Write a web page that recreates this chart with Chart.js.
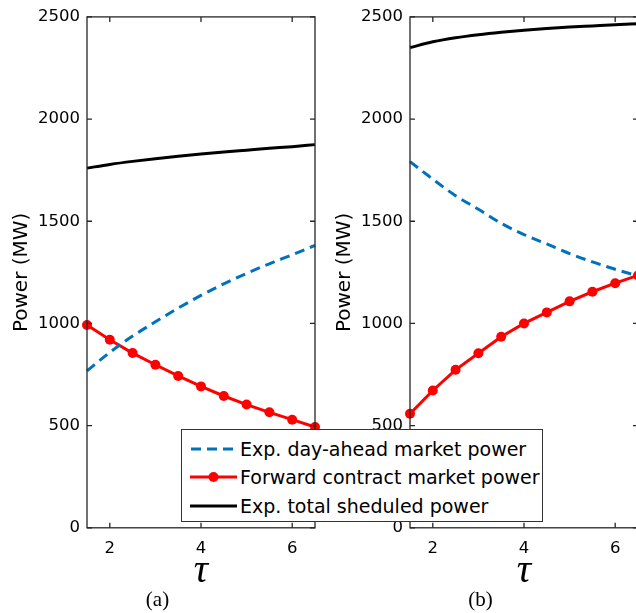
<!DOCTYPE html>
<html>
<head>
<meta charset="utf-8">
<script src="https://cdn.jsdelivr.net/npm/chart.js@4.4.1/dist/chart.umd.min.js"></script>
<style>
  html, body { margin: 0; padding: 0; background: #fff; overflow: hidden; width: 636px; height: 613px; }
  #wrap { position: relative; width: 636px; height: 613px; overflow: hidden; }
  canvas { position: absolute; top: 0; }
  #cA { left: 0; }
  #cB { left: 323px; }
  #legend { position: absolute; left: 181px; top: 429px; width: 360px; height: 91px;
    border: 1.5px solid #333; background: #fff; z-index: 5;
    font-family: "DejaVu Sans", sans-serif; font-size: 19px; color: #000; }
  .row { position: absolute; left: 0; height: 28px; display: flex; align-items: center; white-space: nowrap; }
  .row svg { margin-left: 8px; margin-right: 3px; }
</style>
</head>
<body>
<div id="wrap">
  <canvas id="cA" width="323" height="613"></canvas>
  <canvas id="cB" width="323" height="613"></canvas>
  <div id="legend">
    <div class="row" style="top:5px"><svg width="47" height="12"><line x1="1" y1="6" x2="47" y2="6" stroke="#0072BD" stroke-width="3" stroke-dasharray="10,6"/></svg><span>Exp. day-ahead market power</span></div>
    <div class="row" style="top:33px"><svg width="47" height="12"><line x1="0" y1="6" x2="47" y2="6" stroke="#FF0000" stroke-width="3"/><circle cx="23.5" cy="6" r="5" fill="#FF0000"/></svg><span>Forward contract market power</span></div>
    <div class="row" style="top:62px"><svg width="47" height="12"><line x1="0" y1="6" x2="47" y2="6" stroke="#000" stroke-width="3"/></svg><span>Exp. total sheduled power</span></div>
  </div>
</div>
<script>
// ---- data ----
const tau = [1.5, 2, 2.5, 3, 3.5, 4, 4.5, 5, 5.5, 6, 6.5];
const dayAheadA = [768, 858, 938, 1008, 1075, 1137, 1194, 1245, 1292, 1336, 1382];
const forwardA  = [992, 920, 855, 798, 743, 692, 645, 603, 565, 529, 493];
const totalA    = [1760, 1778, 1793, 1806, 1818, 1829, 1839, 1848, 1857, 1865, 1875];
const dayAheadB = [1792, 1706, 1625, 1559, 1490, 1435, 1389, 1342, 1301, 1265, 1232];
const forwardB  = [558, 672, 773, 854, 935, 1000, 1054, 1108, 1155, 1197, 1235];
const totalB    = [2350, 2378, 2398, 2413, 2425, 2435, 2443, 2450, 2456, 2462, 2467];
const xTicks = [2, 4, 6];
const yTicks = [0, 500, 1000, 1500, 2000, 2500];
const seriesNames = ["Exp. day-ahead market power", "Forward contract market power", "Exp. total sheduled power"];
const panelLabels = ["(a)", "(b)"];

const pts = arr => tau.map((t, i) => ({ x: t, y: arr[i] }));

const boxPlugin = {
  id: 'box',
  afterDatasetsDraw(chart) {
    const { ctx, chartArea: a, scales: { x, y } } = chart;
    ctx.save();
    ctx.strokeStyle = '#262626';
    ctx.lineWidth = 1.3;
    ctx.strokeRect(a.left, a.top, a.right - a.left, a.bottom - a.top);
    const L = 5;
    ctx.beginPath();
    xTicks.forEach(v => {
      const px = x.getPixelForValue(v);
      ctx.moveTo(px, a.bottom); ctx.lineTo(px, a.bottom - L);
      ctx.moveTo(px, a.top); ctx.lineTo(px, a.top + L);
    });
    yTicks.forEach(v => {
      const py = y.getPixelForValue(v);
      ctx.moveTo(a.left, py); ctx.lineTo(a.left + L, py);
      ctx.moveTo(a.right, py); ctx.lineTo(a.right - L, py);
    });
    ctx.stroke();
    ctx.restore();
  }
};

function makeChart(id, da, fw, tot, label) {
  return new Chart(document.getElementById(id), {
    type: 'line',
    data: {
      datasets: [
        { label: seriesNames[0], data: pts(da), borderColor: '#0072BD', borderWidth: 3, borderDash: [10, 6],
          pointRadius: 0, tension: 0.3, cubicInterpolationMode: 'monotone', clip: 2 },
        { label: seriesNames[1], data: pts(fw), borderColor: '#FF0000', backgroundColor: '#FF0000', borderWidth: 3,
          pointRadius: 5, pointBackgroundColor: '#FF0000', pointBorderWidth: 0, tension: 0, clip: 8 },
        { label: seriesNames[2], data: pts(tot), borderColor: '#000000', borderWidth: 3,
          pointRadius: 0, tension: 0.3, cubicInterpolationMode: 'monotone', clip: 2 }
      ]
    },
    options: {
      responsive: false,
      animation: false,
      devicePixelRatio: 1,
      layout: { padding: { top: 15, right: 8, left: 0, bottom: 0 } },
      plugins: {
        legend: { display: false },
        tooltip: { enabled: false },
        subtitle: { display: true, position: 'bottom', text: label, color: '#000',
          font: { family: '"Liberation Serif", serif', size: 21, lineHeight: 1.2 }, padding: 0 }
      },
      scales: {
        x: {
          type: 'linear', min: 1.5, max: 6.5,
          afterBuildTicks: s => { s.ticks = xTicks.map(v => ({ value: v })); },
          afterFit: s => { s.height = 60; },
          grid: { display: false, drawTicks: false },
          border: { display: false },
          ticks: { color: '#000', padding: 11, callback: v => String(v),
            font: { family: '"DejaVu Sans", sans-serif', size: 16.5 } },
          title: { display: true, text: 'τ', color: '#000', padding: 0,
            font: { family: '"Liberation Serif", serif', size: 40, style: 'italic', lineHeight: 0.8 } }
        },
        y: {
          type: 'linear', min: 0, max: 2500,
          afterBuildTicks: s => { s.ticks = yTicks.map(v => ({ value: v })); },
          afterFit: s => { s.width = 87; },
          grid: { display: false, drawTicks: false },
          border: { display: false },
          ticks: { color: '#000', padding: 7, callback: v => String(v),
            font: { family: '"DejaVu Sans", sans-serif', size: 16.5 } },
          title: { display: true, text: 'Power (MW)', color: '#000', padding: { top: 10, bottom: 0 },
            font: { family: '"DejaVu Sans", sans-serif', size: 20, lineHeight: 1.2 } }
        }
      }
    },
    plugins: [boxPlugin]
  });
}

makeChart('cA', dayAheadA, forwardA, totalA, panelLabels[0]);
makeChart('cB', dayAheadB, forwardB, totalB, panelLabels[1]);
</script>
</body>
</html>
